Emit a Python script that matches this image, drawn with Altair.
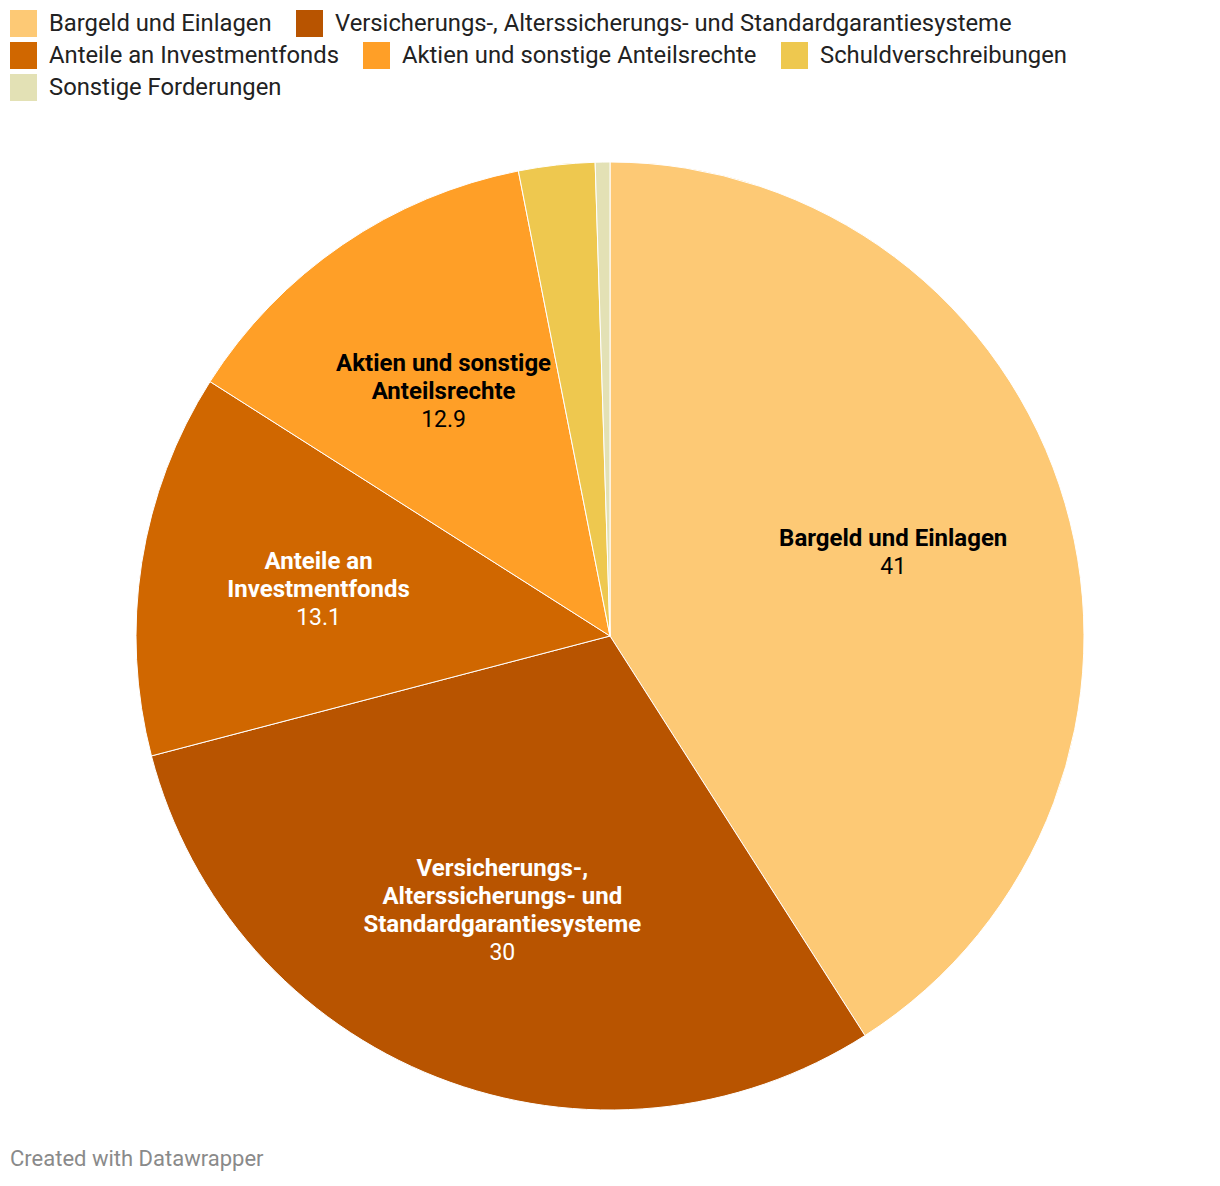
import altair as alt
import pandas as pd

categories = [
    "Bargeld und Einlagen",
    "Versicherungs-, Alterssicherungs- und Standardgarantiesysteme",
    "Anteile an Investmentfonds",
    "Aktien und sonstige Anteilsrechte",
    "Schuldverschreibungen",
    "Sonstige Forderungen",
]
values = [41, 30, 13.1, 12.9, 2.6, 0.5]
value_labels = ["41", "30", "13.1", "12.9", "", ""]
label_lines = [
    ["Bargeld und Einlagen"],
    ["Versicherungs-,", "Alterssicherungs- und", "Standardgarantiesysteme"],
    ["Anteile an", "Investmentfonds"],
    ["Aktien und sonstige", "Anteilsrechte"],
    [],
    [],
]
colors = ["#fdc975", "#b85400", "#d06700", "#ff9f27", "#eec84f", "#e3e1b5"]
legend_rows = [[0, 1], [2, 3, 4], [5]]
dark_slices = [categories[1], categories[2]]

LINE = 28
CX, CY, R, RL = 610, 636, 474, 295

df = pd.DataFrame({
    "idx": list(range(len(categories))),
    "cat": categories,
    "val": values,
})

pie = alt.Chart(df).mark_arc(radius=R, stroke="white", strokeWidth=1).encode(
    theta=alt.Theta("val:Q", stack=True),
    order=alt.Order("idx:Q"),
    x=alt.value(CX), y=alt.value(CY),
    color=alt.Color("cat:N", scale=alt.Scale(domain=categories, range=colors), legend=None),
)

test = " || ".join('datum.cat === "%s"' % c for c in dark_slices)
txt_color = alt.condition(test, alt.value("white"), alt.value("black"))

# Label blocks (name lines + value line), grouped by their line count so each
# group gets a constant vertical offset that centres the block on its anchor.
text_layers = []
block_sizes = sorted({len(l) + 1 for l in label_lines if l})
for L in block_sizes:
    names = ["\n".join(l) if l and len(l) + 1 == L else "" for l in label_lines]
    nums = [v if l and len(l) + 1 == L else "" for l, v in zip(label_lines, value_labels)]
    tdf = df.assign(name_txt=names, value_txt=nums)
    tbase = alt.Chart(tdf).encode(
        theta=alt.Theta("val:Q", stack=True),
        order=alt.Order("idx:Q"),
        x=alt.value(CX), y=alt.value(CY),
        color=txt_color,
    )
    text_layers.append(tbase.mark_text(
        radius=RL, font="Roboto", fontSize=24, fontWeight="bold", lineBreak="\n",
        lineHeight=LINE, align="center", baseline="middle", dy=-(L - 1) * LINE / 2,
    ).encode(text="name_txt:N"))
    text_layers.append(tbase.mark_text(
        radius=RL, font="Roboto", fontSize=23, fontWeight="normal",
        align="center", baseline="middle", dy=(L - 1) * LINE / 2,
    ).encode(text="value_txt:N"))

legend_layers = []
for r, rows in enumerate(legend_rows):
    sub = df.iloc[rows]
    legend_layers.append(
        alt.Chart(sub).mark_square(opacity=0).encode(
            color=alt.Color(
                "cat:N",
                scale=alt.Scale(domain=[categories[i] for i in rows], range=[colors[i] for i in rows]),
                legend=alt.Legend(
                    orient="none", legendX=10, legendY=10 + 32 * r, direction="horizontal",
                    title=None, symbolType="square", symbolSize=729, symbolOpacity=1,
                    symbolStrokeWidth=0, labelFont="Roboto", labelFontSize=23.8,
                    labelColor="#222222", labelOffset=12, columnPadding=24, padding=0,
                    labelLimit=1000,
                ),
            )
        )
    )

chart = alt.layer(pie, *text_layers, *legend_layers).resolve_scale(
    color="independent"
).properties(
    width=1220,
    height=1148,
    autosize=alt.AutoSizeParams(type="none"),
    padding={"left": 0, "top": 0, "right": 0, "bottom": 38},
    background="white",
    title=alt.TitleParams(
        "Created with Datawrapper", orient="bottom", anchor="start", dx=10, offset=1,
        font="Roboto", fontSize=22, fontWeight="normal", color="#8a8a8a",
    ),
).configure_view(stroke=None)

chart.save("out.html", embed_options={"renderer": "svg", "actions": False})
